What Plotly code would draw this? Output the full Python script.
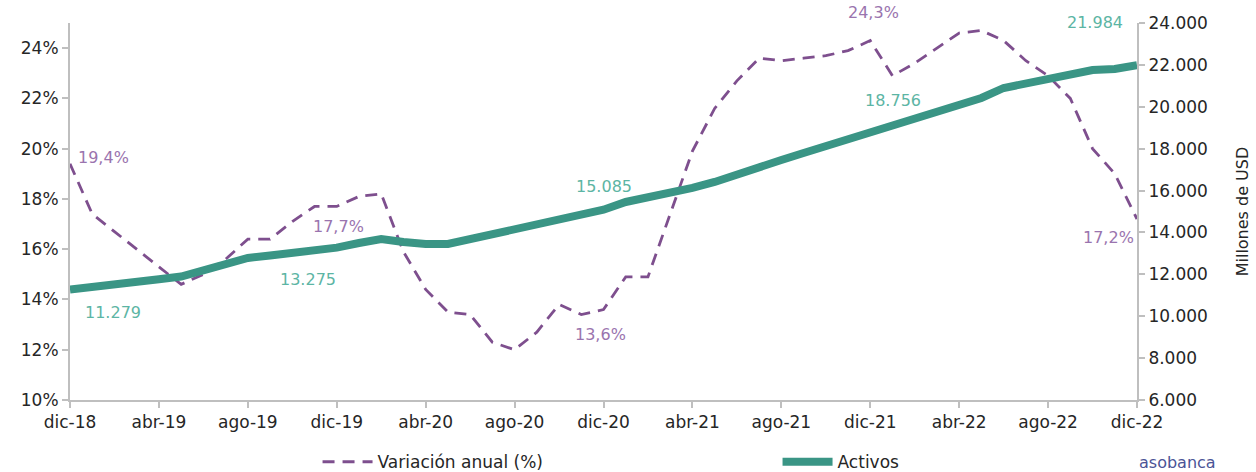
import plotly.graph_objects as go

# Monthly series, Dec 2018 - Dec 2022
month_names = ["ene", "feb", "mar", "abr", "may", "jun",
               "jul", "ago", "sep", "oct", "nov", "dic"]
months = ["dic-18"] + [f"{m}-{y}" for y in (19, 20, 21, 22) for m in month_names]

# Annual variation (%)
variacion = [19.4, 17.4, 16.7, 16.0, 15.3, 14.6, 15.0, 15.6, 16.4, 16.4,
             17.1, 17.7, 17.7, 18.1, 18.2, 15.9, 14.4, 13.5, 13.4, 12.3,
             12.0, 12.7, 13.8, 13.4, 13.6, 14.9, 14.9, 17.4, 19.9, 21.6,
             22.7, 23.6, 23.5, 23.6, 23.7, 23.9, 24.3, 22.9, 23.4, 24.0,
             24.6, 24.7, 24.3, 23.5, 22.9, 22.0, 20.0, 19.0, 17.2]

# Total assets (millions USD)
activos = [11279, 11377, 11505, 11634, 11763, 11897, 12207, 12494, 12780, 12900,
           13019, 13162, 13275, 13497, 13688, 13545, 13449, 13449, 13688, 13831,
           14070, 14309, 14643, 14786, 15085, 15455, 15646, 15884, 16123, 16410,
           16792, 17126, 17460, 17794, 18129, 18367, 18756, 19131, 19418, 19752,
           20086, 20421, 20898, 21137, 21376, 21614, 21758, 21805, 21984]

tick_months = months[::4]
left_ticks = list(range(10, 25, 2))
left_text = [f"{v}%" for v in left_ticks]
right_ticks = list(range(6000, 24001, 2000))

PURPLE = "#7E4F8E"
PURPLE_TXT = "#9A74AE"
GREEN = "#3A9585"
GREEN_TXT = "#5CB5A4"
AXIS = "#BFBFBF"
TXT = "#262626"
FONT = "DejaVu Sans"

fig = go.Figure()
fig.add_trace(go.Scatter(
    x=months, y=variacion, name="Variación anual (%)", mode="lines",
    line=dict(color=PURPLE, width=2.8, dash="12px,8px"), yaxis="y"))
fig.add_trace(go.Scatter(
    x=months, y=activos, name="Activos", mode="lines",
    line=dict(color=GREEN, width=8), yaxis="y2"))

# Year-end value labels: (month index, x shift, y shift)
pct_labels = [(0, 33, 6), (12, 2, -20), (24, -3, -25), (36, 3, 28), (48, -29, -18)]
act_labels = [(0, 43, -23), (12, -29, -32), (24, 0, 23), (36, 23, 32), (48, -42, 43)]

ann = []
for i, dx, dy in pct_labels:
    ann.append(dict(x=months[i], y=variacion[i], xref="x", yref="y",
                    text=f"{variacion[i]:.1f}".replace(".", ",") + "%",
                    showarrow=False, xshift=dx, yshift=dy,
                    font=dict(family=FONT, size=16, color=PURPLE_TXT)))
for i, dx, dy in act_labels:
    ann.append(dict(x=months[i], y=activos[i], xref="x", yref="y2",
                    text=f"{activos[i]:,}".replace(",", "."),
                    showarrow=False, xshift=dx, yshift=dy,
                    font=dict(family=FONT, size=16, color=GREEN_TXT)))
ann.append(dict(x=1.0, y=-0.165, xref="paper", yref="paper", xanchor="left",
                yanchor="middle", text="asobanca", showarrow=False,
                font=dict(family=FONT, size=16, color="#4B5496")))

axis_common = dict(showline=True, linecolor=AXIS, linewidth=2,
                   ticks="outside", tickcolor=AXIS, ticklen=6, tickwidth=1.5,
                   showgrid=False, zeroline=False, automargin=False,
                   tickfont=dict(family=FONT, size=17, color=TXT))

fig.update_layout(
    width=1256, height=472,
    margin=dict(l=70, r=119, t=23, b=72, autoexpand=False),
    paper_bgcolor="white", plot_bgcolor="white",
    separators=",.",
    font=dict(family=FONT, size=16, color=TXT),
    showlegend=True,
    legend=dict(orientation="h", x=0.232, y=-0.165, xanchor="left", yanchor="middle",
                font=dict(family=FONT, size=17, color=TXT),
                entrywidth=395, entrywidthmode="pixels", itemwidth=50),
    xaxis=dict(type="category", range=[0, 48], tickmode="array",
               tickvals=tick_months, ticktext=tick_months, **axis_common),
    yaxis=dict(range=[10, 25], tickmode="array", tickvals=left_ticks,
               ticktext=left_text, **axis_common),
    yaxis2=dict(range=[6000, 24000], overlaying="y", side="right",
                tickmode="array", tickvals=right_ticks, tickformat=",d",
                title=dict(text="Millones de USD", standoff=30,
                           font=dict(family=FONT, size=16, color=TXT)),
                **axis_common),
    annotations=ann,
)

fig.write_html("out.html")
